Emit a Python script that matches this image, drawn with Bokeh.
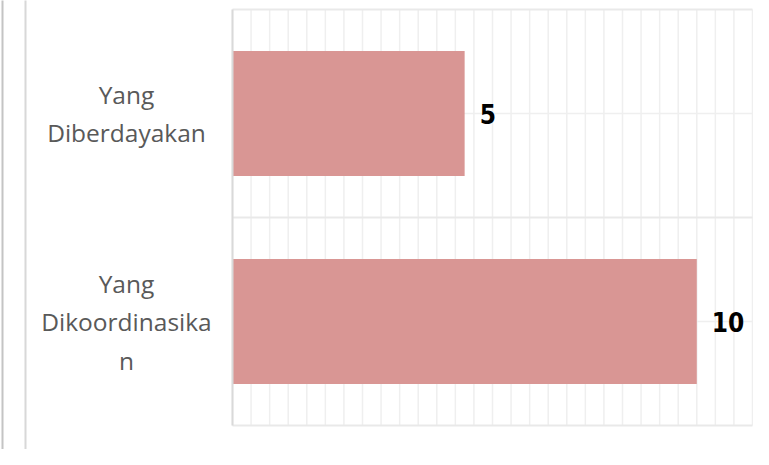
from bokeh.plotting import figure
from bokeh.models import (ColumnDataSource, Range1d, LabelSet, BoxAnnotation)
from bokeh.core.properties import value
from bokeh.embed import file_html
from bokeh.resources import INLINE

# data
categories = ["Yang Dikoordinasikan", "Yang Diberdayakan"]          # bottom -> top
category_lines = [["Yang", "Dikoordinasika", "n"], ["Yang", "Diberdayakan"]]
values = [10, 5]
value_labels = ["10", "5"]
x_max = 11.2
grid_step = 0.4

W, H = 753, 449
PLOT_LEFT, PLOT_RIGHT = 232, 752
PLOT_TOP, PLOT_BOTTOM = 9, 425
PPU = (PLOT_RIGHT - PLOT_LEFT) / x_max
n = len(categories)
PPC = (PLOT_BOTTOM - PLOT_TOP) / n          # px per category band
LINE_H = 38.5
GRID = "#efefef"

p = figure(width=W, height=H, output_backend="svg", toolbar_location=None,
           x_range=Range1d(-PLOT_LEFT / PPU, (W - PLOT_LEFT) / PPU),
           y_range=Range1d(-(H - PLOT_BOTTOM) / PPC, n + PLOT_TOP / PPC),
           min_border=0)
p.background_fill_color = "white"
p.border_fill_color = "white"
p.outline_line_color = None
p.xaxis.visible = False
p.yaxis.visible = False
p.grid.visible = False

ypos = [i + 0.5 for i in range(n)]

# vertical grid lines
gx = [i * grid_step for i in range(int(round(x_max / grid_step)) + 1)]
p.segment(x0=gx, x1=gx, y0=0, y1=n, line_color=GRID, line_width=1.5)

# horizontal lines: category boundaries and centres
bounds_y = [float(i) for i in range(n + 1)]
p.segment(x0=0, x1=x_max, y0=ypos, y1=ypos, line_color=GRID, line_width=1.5)
p.segment(x0=0, x1=x_max, y0=bounds_y, y1=bounds_y, line_color="#e9e9e9", line_width=2)

src = ColumnDataSource(dict(y=ypos, cat=categories, val=values, vlab=value_labels))
p.hbar(y="y", right="val", left=0, height=0.6, source=src,
       fill_color="#d99694", line_color=None)

# value axis line
p.segment(x0=0, x1=0, y0=0, y1=n, line_color="#d9d9d9", line_width=2)

# value labels
p.add_layout(LabelSet(x="val", y="y", text="vlab", source=src,
                      x_offset=15, text_align="left", text_baseline="middle",
                      text_font=value("Liberation Sans Narrow, DejaVu Sans Condensed, DejaVu Sans"),
                      text_font_style="bold",
                      text_font_size="26px", text_color="black"))

# category labels, one row per wrapped line
rows = dict(y=[], line=[], off=[])
for yc, lines in zip(ypos, category_lines):
    k = len(lines)
    for i, t in enumerate(lines):
        rows["y"].append(yc)
        rows["line"].append(t)
        rows["off"].append(((k - 1) / 2 - i) * LINE_H)
lab_src = ColumnDataSource(rows)
p.add_layout(LabelSet(x=126, x_units="screen", y="y", y_offset="off", text="line",
                      source=lab_src, text_align="center", text_baseline="middle",
                      text_font=value("Open Sans"), text_font_size="24.5px",
                      text_color="#595959"))

# panel border lines on the left
for lft, col in ((1, "#c4c4c4"), (24, "#d8d8d8")):
    p.add_layout(BoxAnnotation(left=lft, right=lft + 2, top=-100, bottom=H + 100,
                               left_units="screen", right_units="screen",
                               top_units="screen", bottom_units="screen",
                               fill_color=col, fill_alpha=1, line_color=None))

open("out.html", "w").write(file_html(p, INLINE))
